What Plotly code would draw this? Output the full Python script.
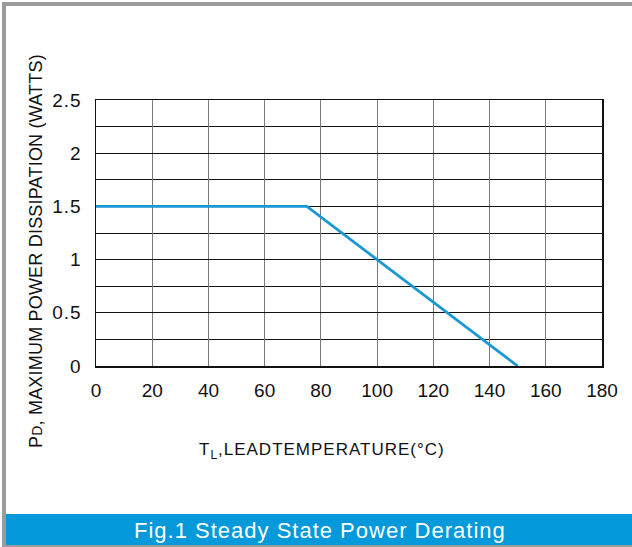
import plotly.graph_objects as go

temp = [0, 75, 150]
power = [1.5, 1.5, 0]
x_ticks = [0, 20, 40, 60, 80, 100, 120, 140, 160, 180]
y_ticks = [0, 0.5, 1, 1.5, 2, 2.5]
y_tick_labels = ["0", "0.5", "1", "1.5", "2", "2.5"]

W, H = 632, 547
L, R, T, B = 96, 602, 100, 366

def fx(p):
    return (p - L) / (R - L)

def fy(p):
    return (B - p) / (B - T)

fig = go.Figure()
fig.add_trace(go.Scatter(x=temp, y=power, mode="lines",
                         line=dict(color="#1a98d5", width=2.8), hoverinfo="skip"))

font = "Liberation Sans, Arial, sans-serif"
fig.update_layout(
    width=W, height=H,
    margin=dict(l=L, r=W - R, t=T, b=H - B, pad=0),
    paper_bgcolor="white", plot_bgcolor="white",
    showlegend=False,
    font=dict(family=font, color="#111"),
    xaxis=dict(range=[0, 180], tickvals=x_ticks, ticks="", showgrid=True,
               gridcolor="#7a7a7a", gridwidth=1, zeroline=False,
               showline=True, linecolor="#111", linewidth=1.5, mirror=True,
               tickfont=dict(size=19, family=font, color="#111"), ticklabelstandoff=7),
    yaxis=dict(range=[0, 2.5], tickvals=y_ticks,
               ticktext=["<span style='letter-spacing:1px'>%s</span>" % t for t in y_tick_labels],
               ticks="",
               showgrid=True, gridcolor="#111", gridwidth=1, zeroline=False,
               showline=True, linecolor="#111", linewidth=1.5, mirror=True,
               minor=dict(dtick=0.25, showgrid=True, gridcolor="#111", gridwidth=1),
               tickfont=dict(size=19, family=font, color="#111"), ticklabelstandoff=9),
)

gray = "#9b9b9b"
blue = "#0399db"
shapes = [
    dict(type="rect", xref="paper", yref="paper", x0=fx(2), x1=fx(6), y0=fy(547), y1=fy(2),
         fillcolor=gray, line=dict(width=0), layer="above"),
    dict(type="rect", xref="paper", yref="paper", x0=fx(2), x1=fx(632), y0=fy(6), y1=fy(2),
         fillcolor=gray, line=dict(width=0), layer="above"),
    dict(type="rect", xref="paper", yref="paper", x0=fx(6), x1=fx(632), y0=fy(545), y1=fy(514),
         fillcolor=blue, line=dict(width=0), layer="above"),
    dict(type="rect", xref="paper", yref="paper", x0=fx(6), x1=fx(632), y0=fy(547), y1=fy(545),
         fillcolor=gray, line=dict(width=0), layer="above"),
]
fig.update_layout(shapes=shapes)

fig.add_annotation(xref="paper", yref="paper", x=fx(320), y=fy(530),
                   text="<span style='letter-spacing:1px'>Fig.1 Steady State Power Derating</span>",
                   showarrow=False,
                   font=dict(size=22, color="white", family=font),
                   xanchor="center", yanchor="middle")
fig.add_annotation(xref="paper", yref="paper", x=fx(322), y=fy(451),
                   text="<span style='letter-spacing:1px'>T<sub style='font-size:16px'>L</sub>,LEADTEMPERATURE(°C)</span>",
                   showarrow=False,
                   font=dict(size=17, color="#111", family=font),
                   xanchor="center", yanchor="middle")
fig.add_annotation(xref="paper", yref="paper", x=fx(36), y=fy(251),
                   text="<span style='letter-spacing:0.2px'>P<span style='font-size:14px'>D</span>, MAXIMUM POWER DISSIPATION (WATTS)</span>",
                   showarrow=False, textangle=-90,
                   font=dict(size=18, color="#111", family=font),
                   xanchor="center", yanchor="middle")

fig.write_html("out.html", config={"displayModeBar": False, "staticPlot": True},
               post_script="document.body.style.margin='0';")
